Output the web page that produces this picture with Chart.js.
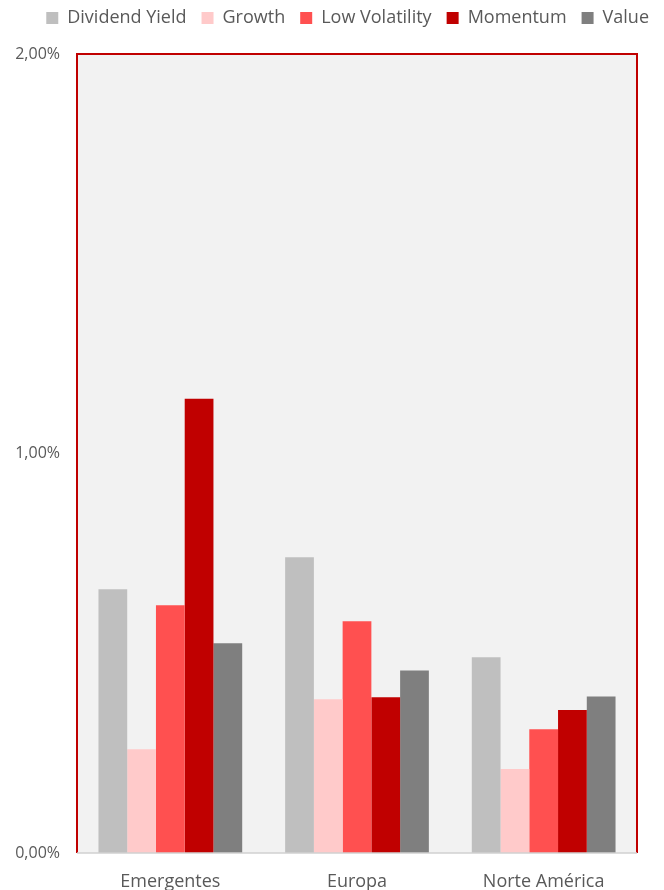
<!DOCTYPE html>
<html>
<head>
<meta charset="utf-8">
<script src="https://cdn.jsdelivr.net/npm/chart.js@4/dist/chart.umd.min.js"></script>
<style>
  html, body { margin: 0; padding: 0; background: #fff; }
  #wrap { width: 664px; height: 890px; }
</style>
</head>
<body>
<div id="wrap"><canvas id="myBar"></canvas></div>
<script>
const regions = ['Emergentes', 'Europa', 'Norte América'];
const dividend_yield = [0.66, 0.74, 0.49];
const growth = [0.26, 0.385, 0.21];
const low_volatility = [0.62, 0.58, 0.31];
const momentum = [1.137, 0.39, 0.358];
const value = [0.525, 0.457, 0.392];
const y_ticks = [0, 1, 2];

const txt = '#595959';

// extra space under the legend
const legendGap = {
  id: 'legendGap',
  beforeInit(chart) {
    const fit = chart.legend.fit;
    chart.legend.fit = function () {
      fit.bind(chart.legend)();
      this.height += 17;
    };
  }
};

const plotFrame = {
  id: 'plotFrame',
  beforeDraw(chart) {
    const a = chart.chartArea, ctx = chart.ctx;
    ctx.save();
    ctx.fillStyle = '#f2f2f2';
    ctx.fillRect(a.left, a.top, a.right - a.left, a.bottom - a.top);
    ctx.restore();
  },
  afterDatasetsDraw(chart) {
    const a = chart.chartArea, ctx = chart.ctx;
    ctx.save();
    ctx.strokeStyle = '#c00000';
    ctx.lineWidth = 2;
    ctx.beginPath();
    ctx.moveTo(a.left, a.bottom);
    ctx.lineTo(a.left, a.top);
    ctx.lineTo(a.right, a.top);
    ctx.lineTo(a.right, a.bottom);
    ctx.stroke();
    ctx.strokeStyle = '#d0d0d0';
    ctx.lineWidth = 1.5;
    ctx.beginPath();
    ctx.moveTo(a.left, a.bottom);
    ctx.lineTo(a.right, a.bottom);
    ctx.stroke();
    ctx.restore();
  }
};

const my_bar = document.getElementById('myBar');

new Chart(my_bar, {
  type: 'bar',
  data: {
    labels: regions,
    datasets: [
      { label: 'Dividend Yield', backgroundColor: '#bfbfbf', data: dividend_yield },
      { label: 'Growth', backgroundColor: '#ffcaca', data: growth },
      { label: 'Low Volatility', backgroundColor: '#ff5050', data: low_volatility },
      { label: 'Momentum', backgroundColor: '#c00000', data: momentum },
      { label: 'Value', backgroundColor: '#7f7f7f', data: value }
    ]
  },
  options: {
    responsive: true,
    maintainAspectRatio: false,
    animation: false,
    datasets: {
      bar: { categoryPercentage: 0.77, barPercentage: 1.0 }
    },
    layout: { padding: { top: -6, right: 0, left: 0, bottom: 0 } },
    plugins: {
      legend: {
        position: 'top',
        align: 'end',
        labels: {
          color: txt,
          font: { family: 'Open Sans', size: 18 },
          boxWidth: 12,
          boxHeight: 12,
          padding: 15
        }
      },
      tooltip: { enabled: false }
    },
    scales: {
      x: {
        grid: { display: false },
        border: { display: false },
        ticks: { color: txt, font: { family: 'Open Sans', size: 18 }, padding: 10 },
        afterFit(s) { s.height = 37; }
      },
      y: {
        min: 0,
        max: 2,
        grid: { display: false },
        border: { display: false },
        afterBuildTicks(s) { s.ticks = y_ticks.map(v => ({ value: v })); },
        ticks: {
          color: txt,
          font: { family: 'Open Sans', size: 16 },
          padding: 9,
          callback: v => v.toFixed(2).replace('.', ',') + '%'
        },
        afterFit(s) { s.width = 77; }
      },
      y2: {
        position: 'right',
        display: true,
        grid: { display: false },
        border: { display: false },
        ticks: { display: false },
        afterFit(s) { s.width = 27; }
      }
    }
  },
  plugins: [legendGap, plotFrame]
});
</script>
</body>
</html>
